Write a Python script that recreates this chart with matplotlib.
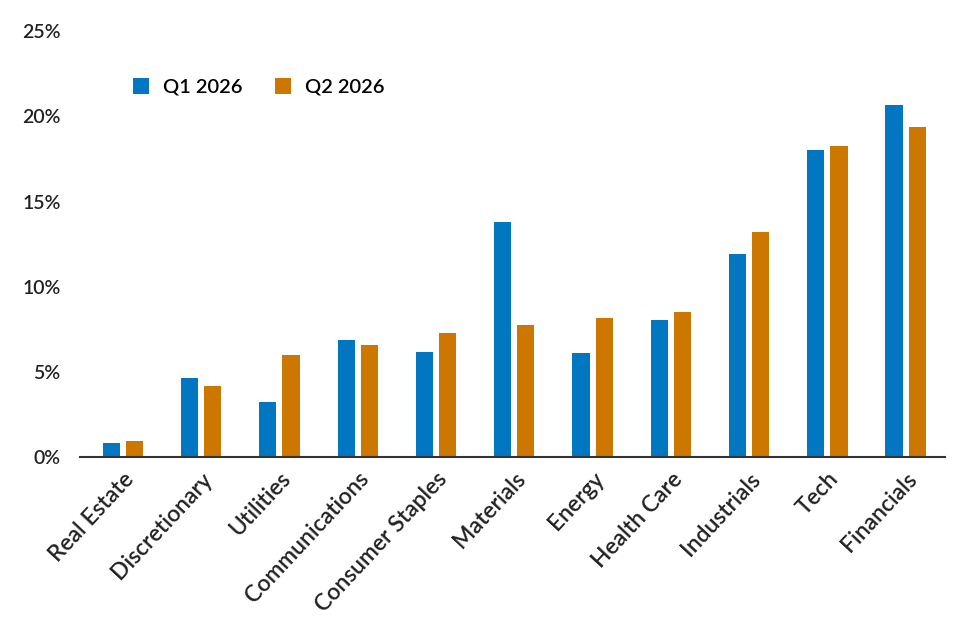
import numpy as np
import matplotlib.pyplot as plt

plt.rcParams['font.family'] = ['Lato', 'DejaVu Sans']

sectors = ["Real Estate", "Discretionary", "Utilities", "Communications",
           "Consumer Staples", "Materials", "Energy", "Health Care",
           "Industrials", "Tech", "Financials"]
q1_2026 = [0.82, 4.63, 3.21, 6.88, 6.19, 13.8, 6.11, 8.02, 11.9, 18.04, 20.68]
q2_2026 = [0.92, 4.19, 5.99, 6.59, 7.31, 7.74, 8.15, 8.53, 13.24, 18.27, 19.35]
yticks = [0, 5, 10, 15, 20, 25]

blue = "#0077c0"
orange = "#cc7700"

fig = plt.figure(figsize=(9.74, 6.22), dpi=100)
ax = fig.add_axes([0.082, 0.265, 0.888, 0.685])

x = np.arange(len(sectors))
w = 0.22
ax.bar(x - 0.148, q1_2026, w, color=blue, label="Q1 2026")
ax.bar(x + 0.148, q2_2026, w, color=orange, label="Q2 2026")

ax.set_xlim(-0.55, 10.5)
ax.set_ylim(0, 25)
ax.set_yticks(yticks)
ax.set_yticklabels([f"{v}%" for v in yticks], fontsize=14, color="#222222",
                   fontweight="semibold")
ax.set_xticks(x)
ax.set_xticklabels(sectors, rotation=47, ha="right", rotation_mode="anchor",
                   fontsize=16.5, color="#222222", fontweight="semibold")
ax.tick_params(length=0)
ax.tick_params(axis="y", pad=14)
ax.tick_params(axis="x", pad=8)

for s in ["top", "right", "left"]:
    ax.spines[s].set_visible(False)
ax.spines["bottom"].set_color("#333333")
ax.spines["bottom"].set_linewidth(1.5)

leg = ax.legend(loc="upper left", bbox_to_anchor=(0.04, 0.932), ncol=2,
                frameon=False, handlelength=0.8, handleheight=0.8,
                columnspacing=1.6, handletextpad=0.7,
                prop={'weight': 'semibold', 'size': 14.5})

fig.savefig("out.png")
